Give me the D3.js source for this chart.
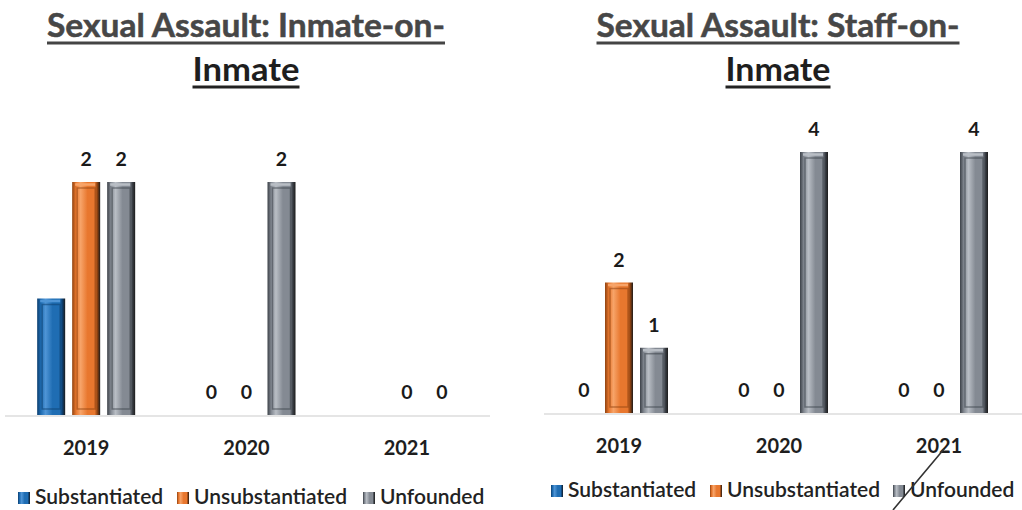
<!DOCTYPE html>
<html><head><meta charset="utf-8">
<script src="https://cdn.jsdelivr.net/npm/d3@7"></script>
<style>body{margin:0;background:#fff}svg{display:block}</style>
</head><body>
<svg id="c" width="1022" height="510"></svg>
<script>
const years = ["2019", "2020", "2021"];
const series = ["Substantiated", "Unsubstantiated", "Unfounded"];
const colors = ["#1f6db3", "#e8772e", "#848a93"];
const darks = ["#0d3f70", "#8f4210", "#3c4148"];
const lights = ["#4f95d6", "#f7a469", "#b9bec5"];

const inmateTitle = ["Sexual Assault: Inmate-on-", "Inmate"];
const inmateSub = [1, 0, 0];
const inmateUnsub = [2, 0, 0];
const inmateUnf = [2, 2, 0];
const inmateHiddenLabels = [["Substantiated", "2019"], ["Substantiated", "2021"]];

const staffTitle = ["Sexual Assault: Staff-on-", "Inmate"];
const staffSub = [0, 0, 0];
const staffUnsub = [2, 0, 0];
const staffUnf = [1, 4, 4];
const staffHiddenLabels = [];

const svg = d3.select("#c");
const defs = svg.append("defs");
series.forEach((s, i) => {
  const g = defs.append("linearGradient").attr("id", "g" + i).attr("x1", 0).attr("x2", 1).attr("y1", 0).attr("y2", 0);
  g.append("stop").attr("offset", "0%").attr("stop-color", darks[i]);
  g.append("stop").attr("offset", "14%").attr("stop-color", colors[i]);
  g.append("stop").attr("offset", "30%").attr("stop-color", lights[i]);
  g.append("stop").attr("offset", "55%").attr("stop-color", colors[i]);
  g.append("stop").attr("offset", "80%").attr("stop-color", colors[i]);
  g.append("stop").attr("offset", "90%").attr("stop-color", darks[i]);
  g.append("stop").attr("offset", "100%").attr("stop-color", "#1c1c1c");
});

function chart(cfg) {
  const {title, cx, titleW, data, hidden, xRange, yMax, yRange, baseX, legendY, legendX} = cfg;
  const g = svg.append("g");
  title.forEach((t, li) => {
    const ty = li === 0 ? 37 : 81;
    g.append("text").attr("x", cx).attr("y", ty).attr("text-anchor", "middle")
      .attr("font-family", "Lato, 'Open Sans', sans-serif").attr("font-weight", 700)
      .attr("font-size", 32).attr("fill", li === 0 ? "#474747" : "#1e1e1e")
      .attr("stroke", li === 0 ? "#474747" : "none").attr("stroke-width", 0.5)
      .attr("textLength", titleW[li]).attr("lengthAdjust", "spacingAndGlyphs").text(t);
    g.append("line").attr("x1", cx - titleW[li] / 2).attr("x2", cx + titleW[li] / 2)
      .attr("y1", ty + 6).attr("y2", ty + 6).attr("stroke", li === 0 ? "#444" : "#222").attr("stroke-width", 2.8);
  });

  const x0 = d3.scaleBand().domain(years).range(xRange);
  const x1 = d3.scaleBand().domain(series).range([x0.bandwidth() / 2 - 52.5, x0.bandwidth() / 2 + 52.5])
    .paddingInner(0.2).paddingOuter(0.1);
  const y = d3.scaleLinear().domain([0, yMax]).range(yRange);

  g.append("line").attr("x1", baseX[0]).attr("x2", baseX[1]).attr("y1", y(0) + 1).attr("y2", y(0) + 1)
    .attr("stroke", "#dcdcdc").attr("stroke-width", 1.5);

  const flat = [];
  years.forEach((yr, yi) => series.forEach((s, si) => flat.push({yr, s, si, v: data[si][yi]})));

  const bars = g.selectAll("g.bar").data(flat.filter(d => d.v > 0)).join("g").attr("class", "bar");
  bars.append("rect")
    .attr("x", d => x0(d.yr) + x1(d.s)).attr("y", d => y(d.v))
    .attr("width", x1.bandwidth()).attr("height", d => y(0) - y(d.v))
    .attr("fill", d => `url(#g${d.si})`);
  bars.append("rect")
    .attr("x", d => x0(d.yr) + x1(d.s) + 5).attr("y", d => y(d.v) + 6)
    .attr("width", x1.bandwidth() - 10).attr("height", d => Math.max(0, y(0) - y(d.v) - 12))
    .attr("fill", "none").attr("stroke", d => darks[d.si]).attr("stroke-opacity", 0.55).attr("stroke-width", 1.5);
  bars.append("line")
    .attr("x1", d => x0(d.yr) + x1(d.s) + 3).attr("x2", d => x0(d.yr) + x1(d.s) + x1.bandwidth() - 5)
    .attr("y1", d => y(d.v) + 2.5).attr("y2", d => y(d.v) + 2.5)
    .attr("stroke", d => lights[d.si]).attr("stroke-width", 2.5);

  const isHidden = d => hidden.some(h => h[0] === d.s && h[1] === d.yr);
  g.selectAll("text.val").data(flat.filter(d => !isHidden(d))).join("text").attr("class", "val")
    .attr("x", d => x0(d.yr) + x1(d.s) + x1.bandwidth() / 2).attr("y", d => y(d.v) - 16)
    .attr("text-anchor", "middle").attr("font-family", "Lato, sans-serif").attr("font-weight", 700)
    .attr("font-size", 19.5).attr("fill", "#1a1a1a").text(d => d.v);

  g.selectAll("text.yr").data(years).join("text").attr("class", "yr")
    .attr("x", d => x0(d) + x0.bandwidth() / 2).attr("y", y(0) + 40)
    .attr("text-anchor", "middle").attr("font-family", "Lato, sans-serif").attr("font-weight", 700)
    .attr("font-size", 20).attr("fill", "#1e1e1e").text(d => d);

  series.forEach((s, i) => {
    const lx = legendX[i];
    g.append("rect").attr("x", lx).attr("y", legendY - 12).attr("width", 12).attr("height", 12)
      .attr("fill", `url(#g${i})`);
    g.append("text").attr("x", lx + 17).attr("y", legendY).attr("font-family", "Lato, sans-serif")
      .attr("font-weight", 600).attr("font-size", 21).attr("fill", "#222").text(s);
  });
}

chart({title: inmateTitle, cx: 246, titleW: [398, 107], data: [inmateSub, inmateUnsub, inmateUnf],
  hidden: inmateHiddenLabels, xRange: [6, 487], yMax: 2, yRange: [415, 182], baseX: [5, 490],
  legendY: 504, legendX: [18, 177, 363]});
chart({title: staffTitle, cx: 778, titleW: [363, 105], data: [staffSub, staffUnsub, staffUnf],
  hidden: staffHiddenLabels, xRange: [539, 1019], yMax: 4, yRange: [413, 152], baseX: [544, 1022],
  legendY: 497, legendX: [551, 710, 893]});

svg.append("path").attr("d", d3.line()([[944, 449], [918, 480], [893, 510]]))
  .attr("stroke", "#333").attr("stroke-width", 1.6).attr("fill", "none");
</script>
</body></html>
